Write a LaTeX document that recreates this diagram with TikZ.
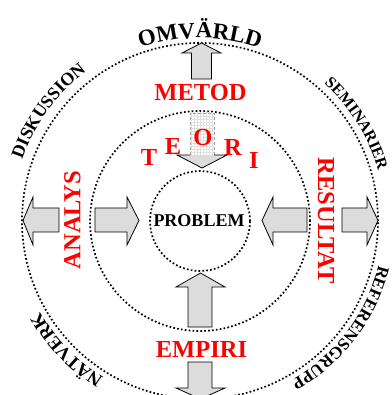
\documentclass[tikz,border=0pt]{standalone}
\usepackage{fontspec}
\setmainfont{Liberation Serif}
\usetikzlibrary{decorations.text}
\definecolor{arrowgray}{HTML}{DCDCDC}
\definecolor{labelred}{HTML}{FF0000}
\newcommand\omfont{\bfseries\fontsize{23}{23}\selectfont}
\newcommand\sidefont{\bfseries\fontsize{18}{18}\selectfont}
\newcommand\semfont{\bfseries\fontsize{16}{16}\selectfont}
\newcommand\reffont{\bfseries\fontsize{17}{17}\selectfont}
\newcommand\natfont{\bfseries\fontsize{18.5}{18.5}\selectfont}
\begin{document}
\begin{tikzpicture}[x=1pt,y=1pt,
  dotline/.style={line width=1.7pt, dash pattern=on 1.7pt off 2.2pt},
  barrow/.style={draw=black, line width=0.8pt, fill=arrowgray, line join=miter},
  redlabel/.style={text=labelred, font=\bfseries\fontsize{24.5}{24.5}\selectfont, inner sep=0pt},
  blacklabel/.style={text=black, font=\bfseries\fontsize{18}{18}\selectfont, inner sep=0pt}
]
\useasboundingbox (-200,-174) rectangle (191,221);

% circles
\draw[dotline] (0,0) circle[radius=50pt];
\draw[dotline] (0,0) circle[radius=110pt];
\draw[dotline] (0,0) circle[radius=178pt];

% block arrows
\draw[barrow] (-8.5,142) -- (-8.5,168) -- (-18,168) -- (1.5,178) -- (21,168) -- (11.5,168) -- (11.5,142) -- cycle;
\draw[barrow] (-12,-106) -- (-12,-66) -- (-24,-66) -- (0.5,-52) -- (25,-66) -- (12,-66) -- (12,-106) -- cycle;
\draw[barrow] (-12,-141) -- (-12,-167) -- (-24,-167) -- (0.5,-178) -- (25,-167) -- (12,-167) -- (12,-141) -- cycle;
\draw[barrow] (-141,-11) -- (-167,-11) -- (-167,-24) -- (-177,0.5) -- (-167,24) -- (-167,13) -- (-141,13) -- cycle;
\draw[barrow] (-105,-11) -- (-73,-11) -- (-73,-24) -- (-61,0.5) -- (-73,24) -- (-73,13) -- (-105,13) -- cycle;
\draw[barrow] (107,-11) -- (73,-11) -- (73,-24) -- (62,0.5) -- (73,24) -- (73,13) -- (107,13) -- cycle;
\draw[barrow] (142,-11) -- (167,-11) -- (167,-24) -- (178,0.5) -- (167,24) -- (167,13) -- (142,13) -- cycle;

% TEORI arrow with grid shaft
\begin{scope}
  \clip (-10,66) rectangle (14,108);
  \fill[white] (-10,66) rectangle (14,108);
  \draw[black!12, line width=0.4pt, step=3pt] (-11,65) grid (15,109);
\end{scope}
\draw[black!35, line width=0.5pt, densely dashed] (-10,66) -- (-10,108) -- (14,108) -- (14,66);
\fill[arrowgray] (-23,66) -- (2,53) -- (27,66) -- cycle;
\draw[black, line width=0.8pt] (-10,66) -- (-23,66) -- (2,53) -- (27,66) -- (14,66);

% red labels
\node[redlabel] (metod) at (0.5,128) {METOD};
\node[redlabel] (empiri) at (1.5,-128) {EMPIRI};
\node[redlabel, rotate=90] (analys) at (-127.5,1) {ANALYS};
\node[redlabel, rotate=-90] (resultat) at (126,0) {RESULTAT};
\node[redlabel] (t) at (-51,64) {T};
\node[redlabel] (e) at (-27,75) {E};
\node[redlabel] (o) at (3,83) {O};
\node[redlabel] (r) at (33,74) {R};
\node[redlabel] (i) at (54,61) {I};

% center
\node[blacklabel] (problem) at (-1,0.5) {PROBLEM};

% outer curved labels
\path[decorate, decoration={text along path, text align=center, text={|\omfont|OMVÄRLD}}]
  (140:183pt) arc[start angle=140, end angle=40, radius=183pt];
\path[decorate, decoration={text along path, text align=center, text={|\sidefont|DISKUSSION}}]
  (194:188pt) arc[start angle=194, end angle=94, radius=188pt];
\path[decorate, decoration={text along path, text align=center, text={|\semfont|SEMINARIER}}]
  (81.8:185pt) arc[start angle=81.8, end angle=-18.2, radius=185pt];
\path[decorate, decoration={text along path, text align=center, text={|\reffont|REFERENSGRUPP}}]
  (12.9:184pt) arc[start angle=12.9, end angle=-87.1, radius=184pt];
\path[decorate, decoration={text along path, text align=center, text={|\natfont|NÄTVERK}}]
  (-86:184pt) arc[start angle=-86, end angle=-186, radius=184pt];
\end{tikzpicture}
\end{document}
